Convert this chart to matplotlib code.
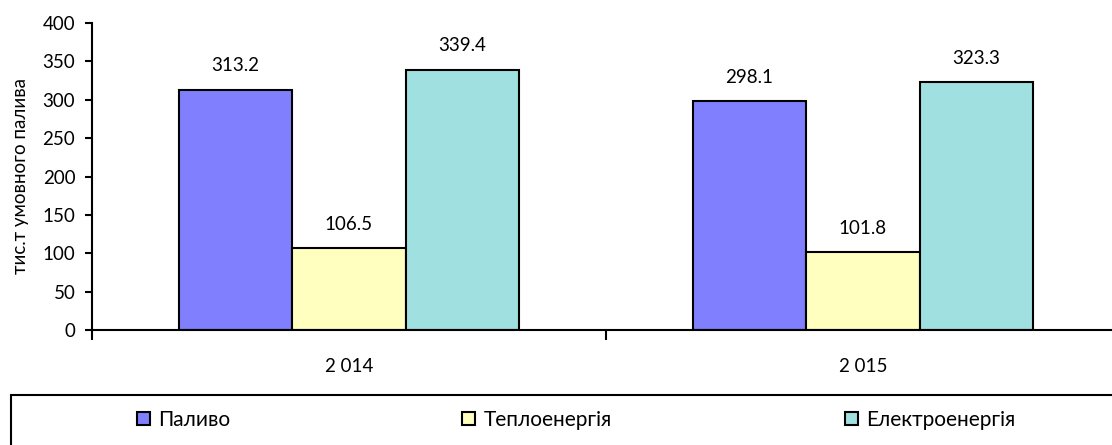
import numpy as np
import matplotlib.pyplot as plt
from matplotlib.patches import Rectangle

plt.rcParams['font.family'] = ['Lato', 'DejaVu Sans']

years = ['2 014', '2 015']
series = ['Паливо', 'Теплоенергія', 'Електроенергія']
palyvo = [313.2, 298.1]
teplo = [106.5, 101.8]
elektro = [339.4, 323.3]
colors = ['#8080FF', '#FFFFC0', '#A0E0E0']

fig = plt.figure(figsize=(11.12, 4.45), dpi=100)
ax = fig.add_axes([92/1112, 1 - 330/445, 1028/1112, 307/445])

x = np.arange(len(years))
w = 0.221
bars = []
for i, (vals, c) in enumerate(zip([palyvo, teplo, elektro], colors)):
    b = ax.bar(x + (i - 1) * w, vals, w, color=c, edgecolor='black', linewidth=1.5, label=series[i])
    bars.append(b)
    for xi, v in zip(x + (i - 1) * w, vals):
        ax.text(xi, v + 20, '%.1f' % v, ha='center', va='bottom', fontsize=13.5)

ax.set_xlim(-0.5, 1.5)
ax.set_ylim(0, 400)
ax.set_yticks(np.arange(0, 401, 50))
ax.set_xticks([-0.5, 0.5])
ax.set_xticklabels([])
ax.set_xticks(x, minor=True)
ax.set_xticklabels(years, minor=True, fontsize=13.5)
ax.tick_params(axis='x', which='major', direction='out', length=7, width=1.5)
ax.tick_params(axis='x', which='minor', length=0, pad=20)
ax.tick_params(axis='y', direction='out', length=5, width=1.5, labelsize=13.5, pad=7)
for s in ['top', 'right']:
    ax.spines[s].set_visible(False)
ax.spines['left'].set_linewidth(1.5)
ax.spines['bottom'].set_linewidth(1.5)
ax.set_ylabel('тис.т умовного палива', fontsize=13.5, labelpad=10)

# legend frame
fig.patches.append(Rectangle((11/1112, -0.1), 1.1, 1.1 - 395/445, transform=fig.transFigure,
                             fill=False, edgecolor='black', linewidth=1.5))
for b, name, px in zip(bars, series, [127, 452, 835]):
    fig.legend(handles=[b], labels=[name], loc='center left', frameon=False,
               bbox_to_anchor=(px/1112, 1 - 420/445), fontsize=15,
               handlelength=0.62, handleheight=0.62, handletextpad=0.38, borderpad=0)

fig.savefig('out.png', dpi=100)
